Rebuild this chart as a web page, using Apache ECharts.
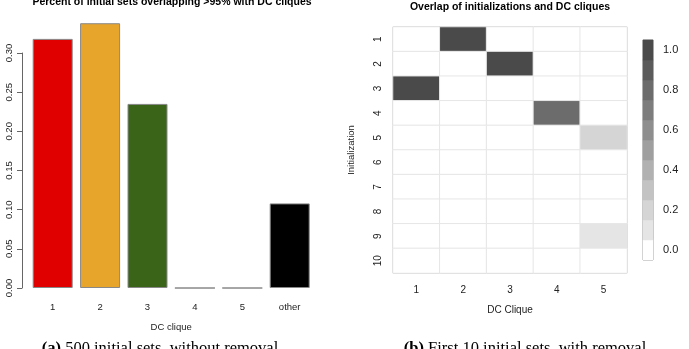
<!DOCTYPE html>
<html>
<head>
<meta charset="utf-8">
<script src="https://cdn.jsdelivr.net/npm/echarts@6/dist/echarts.min.js"></script>
<style>
  html, body { margin: 0; padding: 0; background: #fff; }
  #main { width: 689px; height: 349px; }
</style>
</head>
<body>
<div id="main"></div>
<script>
// left panel data
var cliques = ['1', '2', '3', '4', '5', 'other'];
var shares = [0.318, 0.338, 0.235, 0, 0, 0.108];
var barColors = ['#e00000', '#e8a52b', '#3a6418', '#ffffff', '#ffffff', '#000000'];

// right panel data (rows = initializations, cols = DC clique)
var inits = ['1', '2', '3', '4', '5', '6', '7', '8', '9', '10'];
var cliqueCols = ['1', '2', '3', '4', '5'];
var overlap = [
    [0, 1, 0, 0, 0],
    [0, 0, 1, 0, 0],
    [1, 0, 0, 0, 0],
    [0, 0, 0, 0.8, 0],
    [0, 0, 0, 0, 0.2],
    [0, 0, 0, 0, 0],
    [0, 0, 0, 0, 0],
    [0, 0, 0, 0, 0],
    [0, 0, 0, 0, 0.1],
    [0, 0, 0, 0, 0]
];
// colour key levels
var levels = [0.0, 0.1, 0.2, 0.3, 0.4, 0.5, 0.6, 0.7, 0.8, 0.9, 1.0];
var levelLabels = ['0.0', '0.1', '0.2', '0.3', '0.4', '0.5', '0.6', '0.7', '0.8', '0.9', '1.0'];
var grays = ['#ffffff', '#e5e5e5', '#d5d5d5', '#c3c3c3', '#b1b1b1', '#9f9f9f',
             '#8e8e8e', '#7d7d7d', '#6c6c6c', '#5b5b5b', '#4a4a4a'];

var chart = echarts.init(document.getElementById('main'));

var heatData = [];
overlap.forEach(function(row, i) {
    row.forEach(function(v, j) {
        heatData.push([j, i, v]);
    });
});
var keyData = levels.map(function(v, i) { return [0, i, v]; });

var pieces = levels.map(function(v, i) {
    return { gte: v - 0.05, lt: v + 0.05, color: grays[i] };
});

var font = 'Liberation Sans, Arial, sans-serif';
var serif = 'Liberation Serif, serif';

var option = {
    animation: false,
    textStyle: { fontFamily: font },
    title: [
        {
            text: 'Percent of initial sets overlapping >95% with DC cliques',
            left: 172, top: -3, textAlign: 'center', padding: 0,
            textStyle: { fontSize: 10.5, fontWeight: 'bold', color: '#000', fontFamily: font }
        },
        {
            text: 'Overlap of initializations and DC cliques',
            left: 510, top: 2, textAlign: 'center', padding: 0,
            textStyle: { fontSize: 10.5, fontWeight: 'bold', color: '#000', fontFamily: font }
        },
        {
            text: '{b|(a)} 500 initial sets, without removal',
            left: 160, top: 340, textAlign: 'center', padding: 0,
            textStyle: {
                fontSize: 16.5, fontWeight: 'normal', color: '#000', fontFamily: serif,
                rich: { b: { fontSize: 16.5, fontWeight: 'bold', fontFamily: serif } }
            }
        },
        {
            text: '{b|(b)} First 10 initial sets, with removal',
            left: 525, top: 340, textAlign: 'center', padding: 0,
            textStyle: {
                fontSize: 16.5, fontWeight: 'normal', color: '#000', fontFamily: serif,
                rich: { b: { fontSize: 16.5, fontWeight: 'bold', fontFamily: serif } }
            }
        }
    ],
    grid: [
        { left: 29, top: 53, width: 284.4, height: 235 },
        { left: 393, top: 27, width: 234, height: 246, show: true, borderColor: '#999', borderWidth: 1 },
        { left: 643, top: 40, width: 10, height: 220, show: true, borderColor: '#888', borderWidth: 1 }
    ],
    xAxis: [
        {
            gridIndex: 0, type: 'category', data: cliques,
            axisLine: { show: false }, axisTick: { show: false },
            axisLabel: { margin: 14, fontSize: 9.5, color: '#222' },
            name: 'DC clique', nameLocation: 'middle', nameGap: 34,
            nameTextStyle: { fontSize: 9.5, color: '#222' }
        },
        {
            gridIndex: 1, type: 'category', data: cliqueCols,
            axisLine: { show: false },
            axisTick: { alignWithLabel: true, length: 5, lineStyle: { color: '#666' } },
            axisLabel: { margin: 12, fontSize: 10, color: '#222' },
            splitLine: { show: false },
            name: 'DC Clique', nameLocation: 'middle', nameGap: 32,
            nameTextStyle: { fontSize: 10, color: '#222' }
        },
        {
            gridIndex: 2, type: 'category', data: ['k'], show: false
        }
    ],
    yAxis: [
        {
            gridIndex: 0, type: 'value', min: 0, max: 0.3, interval: 0.05, offset: 7,
            axisLine: { show: true, lineStyle: { color: '#666' } },
            axisTick: { show: true, length: 5, lineStyle: { color: '#666' } },
            axisLabel: { rotate: 90, margin: 8, fontSize: 9.5, color: '#222',
                formatter: function(v) { return v.toFixed(2); } },
            splitLine: { show: false }
        },
        {
            gridIndex: 1, type: 'category', data: inits, inverse: true,
            axisLine: { show: false },
            axisTick: { alignWithLabel: true, length: 5, lineStyle: { color: '#666' } },
            axisLabel: { rotate: 90, margin: 10, fontSize: 10, color: '#222' },
            name: 'Initialization', nameLocation: 'middle', nameGap: 37, nameRotate: 90,
            nameTextStyle: { fontSize: 9.5, color: '#222' }
        },
        {
            gridIndex: 2, type: 'category', data: levelLabels, position: 'right',
            axisLine: { show: false },
            axisTick: { alignWithLabel: true, interval: 1, length: 4, lineStyle: { color: '#666' } },
            axisLabel: { interval: 1, margin: 10, fontSize: 11, color: '#222' }
        }
    ],
    visualMap: {
        type: 'piecewise', show: false, seriesIndex: [1, 2], dimension: 2,
        pieces: pieces
    },
    series: [
        {
            type: 'bar', xAxisIndex: 0, yAxisIndex: 0,
            data: shares.map(function(v, i) { return { value: v, itemStyle: { color: barColors[i] } }; }),
            barWidth: 40, clip: false,
            itemStyle: { borderColor: '#888', borderWidth: 1 }
        },
        {
            type: 'heatmap', xAxisIndex: 1, yAxisIndex: 1, data: heatData,
            itemStyle: { borderColor: '#e6e6e6', borderWidth: 1 }
        },
        {
            type: 'heatmap', xAxisIndex: 2, yAxisIndex: 2, data: keyData
        }
    ]
};

chart.setOption(option);
</script>
</body>
</html>
